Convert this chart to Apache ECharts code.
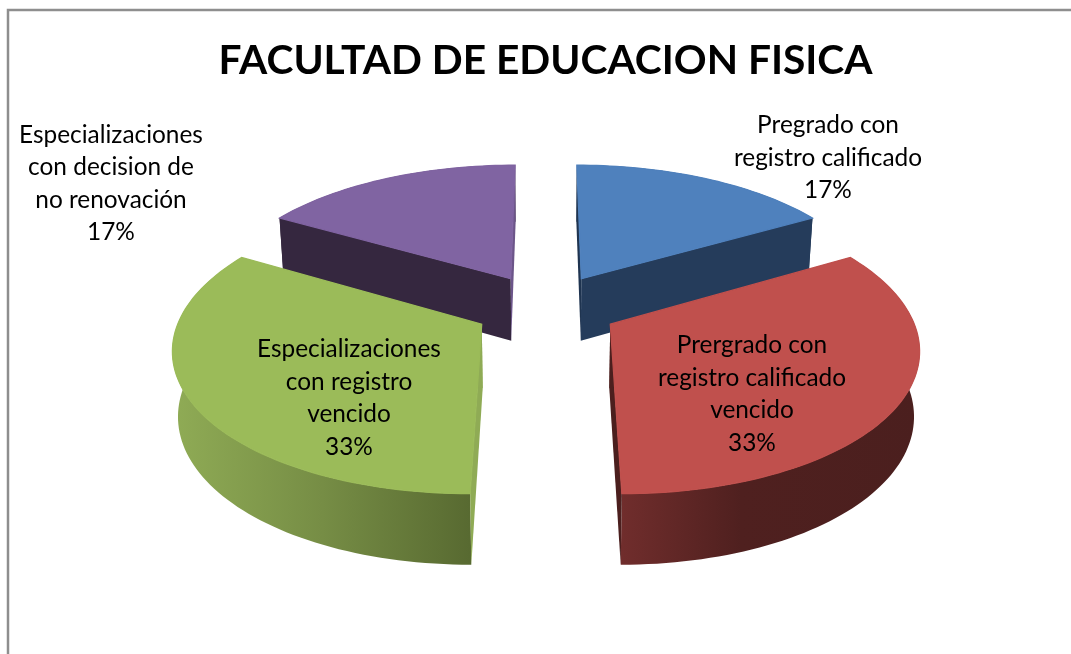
<!DOCTYPE html>
<html><head><meta charset="utf-8">
<style>html,body{margin:0;padding:0;background:#fff}#c{width:1071px;height:654px}</style>
<script src="https://cdn.jsdelivr.net/npm/echarts@6/dist/echarts.min.js"></script>
</head><body><div id="c"></div>
<script>
const titleText = 'FACULTAD DE EDUCACION FISICA';
const categories = ['Pregrado con\nregistro calificado','Prergrado con\nregistro calificado\nvencido','Especializaciones\ncon registro\nvencido','Especializaciones\ncon decision de\nno renovación'];
const values = [1,2,2,1];
const topColors = ['#4F81BD','#C0504D','#9BBB59','#8064A2'];
const wallStops = [
  [[0,'#253C5B'],[1,'#253C5B']],
  [[0,'#702D2C'],[0.4,'#4F201F'],[1,'#4B1F1E']],
  [[0,'#8FAB55'],[0.5,'#768D45'],[1,'#586A31']],
  [[0,'#35273F'],[1,'#35273F']]
];
const wallRange = [[580,810],[622,921],[175,470],[282,512]];
const cutColors = [['#1F3450','#253C5B'],['#4F201F','#4B1F1E'],['#8FAB55','#8FAB55'],['#35273F','#6C5589']];
const labelAnchors = [[828,158],[752,394],[349,398],[111,183.5]];
const geo = {cx:546,cy:307,R:298.5,b:138.4,k:0.15,d:0.244,h:63.3,k2:0.097,s:0.985};

const total = values.reduce((a,b)=>a+b,0);
function slicePoints(i){
  let start=0; for(let j=0;j<i;j++) start+=values[j]/total*Math.PI*2;
  const end=start+values[i]/total*Math.PI*2, mid=(start+end)/2;
  const ox=geo.d*Math.sin(mid), oy=geo.d*Math.cos(mid);
  const proj=(t,r)=>{
    const X=r*Math.sin(t)+ox, Y=r*Math.cos(t)+oy, den=1+geo.k*Y;
    const x=geo.cx+geo.R*X/den, y=geo.cy-geo.b*Y/den;
    return {top:[x,y],bot:[geo.cx+(x-geo.cx)*geo.s,y+geo.h/(1+geo.k2*Y)]};
  };
  const arc=[]; const n=Math.ceil((end-start)/(Math.PI/120));
  for(let a=0;a<=n;a++) arc.push(proj(start+(end-start)*a/n,1));
  return {apex:proj(0,0),arc,mid};
}
function renderItem(params,api){
  const i=params.dataIndex; api.value(0);
  const p=slicePoints(i), z=Math.round(100-Math.cos(p.mid)*50);
  const first=p.arc[0], last=p.arc[p.arc.length-1];
  const grad=new echarts.graphic.LinearGradient(wallRange[i][0],0,wallRange[i][1],0,wallStops[i].map(s=>({offset:s[0],color:s[1]})),true);
  const poly=(pts,fill,dz,sw)=>({type:'polygon',shape:{points:pts},style:{fill,stroke:sw?fill:null,lineWidth:sw||0},z2:z+dz});
  return {type:'group',children:[
    poly(p.arc.map(q=>q.top).concat(p.arc.map(q=>q.bot).reverse()),grad,0,0),
    poly([p.apex.top,first.top,first.bot,p.apex.bot],cutColors[i][0],1,0),
    poly([p.apex.top,last.top,last.bot,p.apex.bot],cutColors[i][1],2,0),
    poly([p.apex.top].concat(p.arc.map(q=>q.top)),topColors[i],3,1.2),
    {type:'text',z2:1000,style:{
      text:categories[i]+'\n'+Math.round(values[i]/total*100)+'%',
      x:labelAnchors[i][0],y:labelAnchors[i][1],align:'center',verticalAlign:'middle',
      fill:'#000',font:'24.4px Lato',lineHeight:32.5}}
  ]};
}
const chart=echarts.init(document.getElementById('c'),null,{renderer:'canvas'});
chart.setOption({
  animation:false,backgroundColor:'#fff',
  title:{text:titleText,left:540.5,top:35,textAlign:'center',textStyle:{fontFamily:'Lato',fontWeight:'bold',fontSize:40.7,color:'#000'}},
  graphic:[{type:'rect',z:-1,shape:{x:8,y:10,width:1300,height:900},style:{fill:'#fff',stroke:'#8E8E8E',lineWidth:2.5}}],
  series:[{type:'custom',coordinateSystem:'none',renderItem,data:values.map(v=>[v]),silent:true}]
});
</script></body></html>
